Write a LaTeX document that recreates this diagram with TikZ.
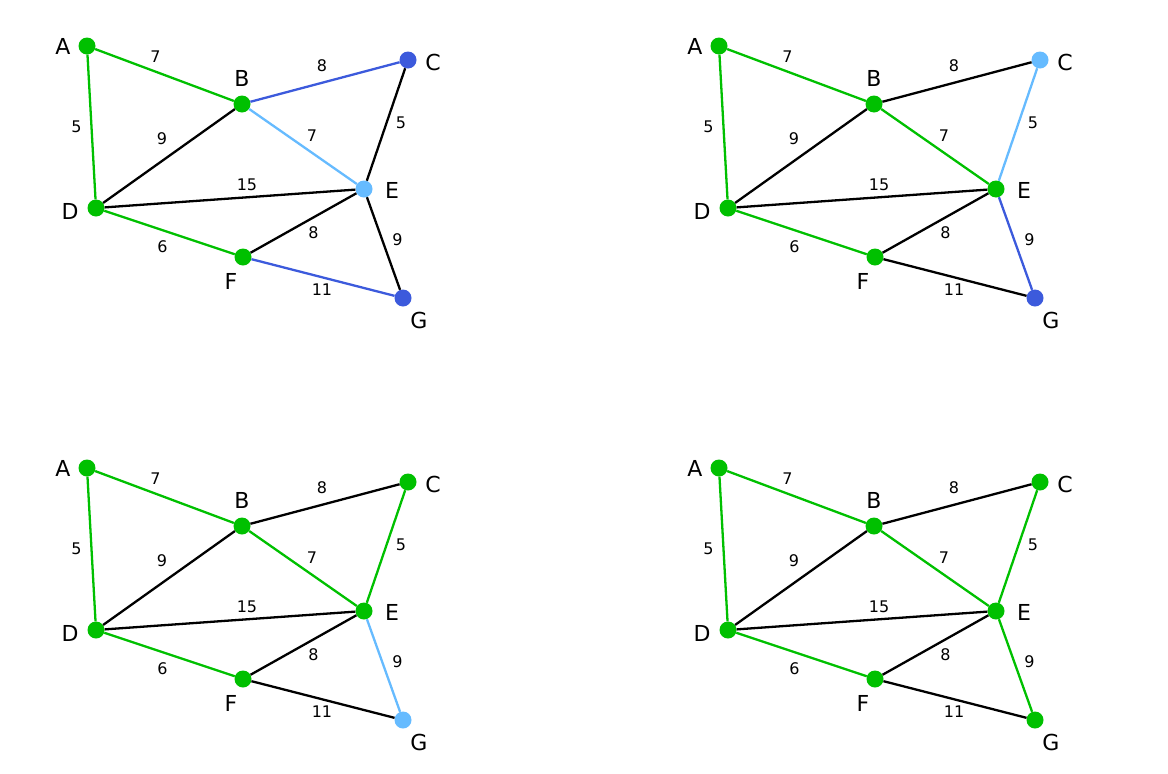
\documentclass[tikz,border=0pt]{standalone}
\usepackage{fontspec}
\setmainfont{DejaVu Sans}
\definecolor{treegreen}{RGB}{0,192,0}
\definecolor{nextblue}{RGB}{102,187,255}
\definecolor{candblue}{RGB}{60,90,220}
\tikzset{
  dot/.style={circle,inner sep=0pt,minimum size=17pt},
  vname/.style={font=\fontsize{22}{26}\selectfont,inner sep=0pt},
  wname/.style={font=\fontsize{16}{19}\selectfont,inner sep=0pt,text=black},
  edge/.style={line width=2.3pt},
  % default colours: vertices in the tree, edges black
  vA/.style={fill=treegreen}, vB/.style={fill=treegreen}, vC/.style={fill=treegreen},
  vD/.style={fill=treegreen}, vE/.style={fill=treegreen}, vF/.style={fill=treegreen},
  vG/.style={fill=treegreen},
  eAB/.style={treegreen}, eAD/.style={treegreen}, eDF/.style={treegreen},
  eBC/.style={black}, eBD/.style={black}, eBE/.style={black}, eCE/.style={black},
  eDE/.style={black}, eEF/.style={black}, eEG/.style={black}, eFG/.style={black}
}
\newcommand{\primpanel}[1]{%
  \node[dot,vA] (#1A) at (87,46) {};
  \node[dot,vB] (#1B) at (242,104) {};
  \node[dot,vC] (#1C) at (408,60) {};
  \node[dot,vD] (#1D) at (96,208) {};
  \node[dot,vE] (#1E) at (364,189) {};
  \node[dot,vF] (#1F) at (243,257) {};
  \node[dot,vG] (#1G) at (403,298) {};
  \node[vname,xshift=-24pt] (#1Alab) at (#1A) {A};
  \node[vname,yshift=26pt] (#1Blab) at (#1B) {B};
  \node[vname,xshift=25pt,yshift=-2pt] (#1Clab) at (#1C) {C};
  \node[vname,xshift=-26pt,yshift=-3pt] (#1Dlab) at (#1D) {D};
  \node[vname,xshift=28pt,yshift=-1pt] (#1Elab) at (#1E) {E};
  \node[vname,xshift=-12pt,yshift=-24pt] (#1Flab) at (#1F) {F};
  \node[vname,xshift=16pt,yshift=-22pt] (#1Glab) at (#1G) {G};
  \draw[edge,eAB] (#1A) -- node[wname,xshift=-9pt,yshift=18pt] {7} (#1B);
  \draw[edge,eAD] (#1A) -- node[wname,xshift=-15pt] {5} (#1D);
  \draw[edge,eBC] (#1B) -- node[wname,xshift=-3pt,yshift=16pt] {8} (#1C);
  \draw[edge,eBD] (#1B) -- node[wname,xshift=-7pt,yshift=17pt] {9} (#1D);
  \draw[edge,eBE] (#1B) -- node[wname,xshift=9pt,yshift=11pt] {7} (#1E);
  \draw[edge,eCE] (#1C) -- node[wname,xshift=15pt,yshift=2pt] {5} (#1E);
  \draw[edge,eDE] (#1D) -- node[wname,xshift=17pt,yshift=14pt] {15} (#1E);
  \draw[edge,eEF] (#1E) -- node[wname,xshift=10pt,yshift=-10pt] {8} (#1F);
  \draw[edge,eEG] (#1E) -- node[wname,xshift=14pt,yshift=4pt] {9} (#1G);
  \draw[edge,eDF] (#1D) -- node[wname,xshift=-7pt,yshift=-14pt] {6} (#1F);
  \draw[edge,eFG] (#1F) -- node[wname,xshift=-1pt,yshift=-12pt] {11} (#1G);
}
\begin{document}
\begin{tikzpicture}[x=1pt,y=-1pt]
  \useasboundingbox (0,0) rectangle (1168,774);
  % step 1
  \begin{scope}[vC/.style={fill=candblue},vE/.style={fill=nextblue},vG/.style={fill=candblue},
      eBC/.style={candblue},eFG/.style={candblue},eBE/.style={nextblue}]
    \primpanel{p}
  \end{scope}
  % step 2
  \begin{scope}[shift={(632,0)},vC/.style={fill=nextblue},vG/.style={fill=candblue},
      eBE/.style={treegreen},eCE/.style={nextblue},eEG/.style={candblue}]
    \primpanel{q}
  \end{scope}
  % step 3
  \begin{scope}[shift={(0,422)},vG/.style={fill=nextblue},
      eBE/.style={treegreen},eCE/.style={treegreen},eEG/.style={nextblue}]
    \primpanel{r}
  \end{scope}
  % step 4
  \begin{scope}[shift={(632,422)},
      eBE/.style={treegreen},eCE/.style={treegreen},eEG/.style={treegreen}]
    \primpanel{s}
  \end{scope}
\end{tikzpicture}
\end{document}
